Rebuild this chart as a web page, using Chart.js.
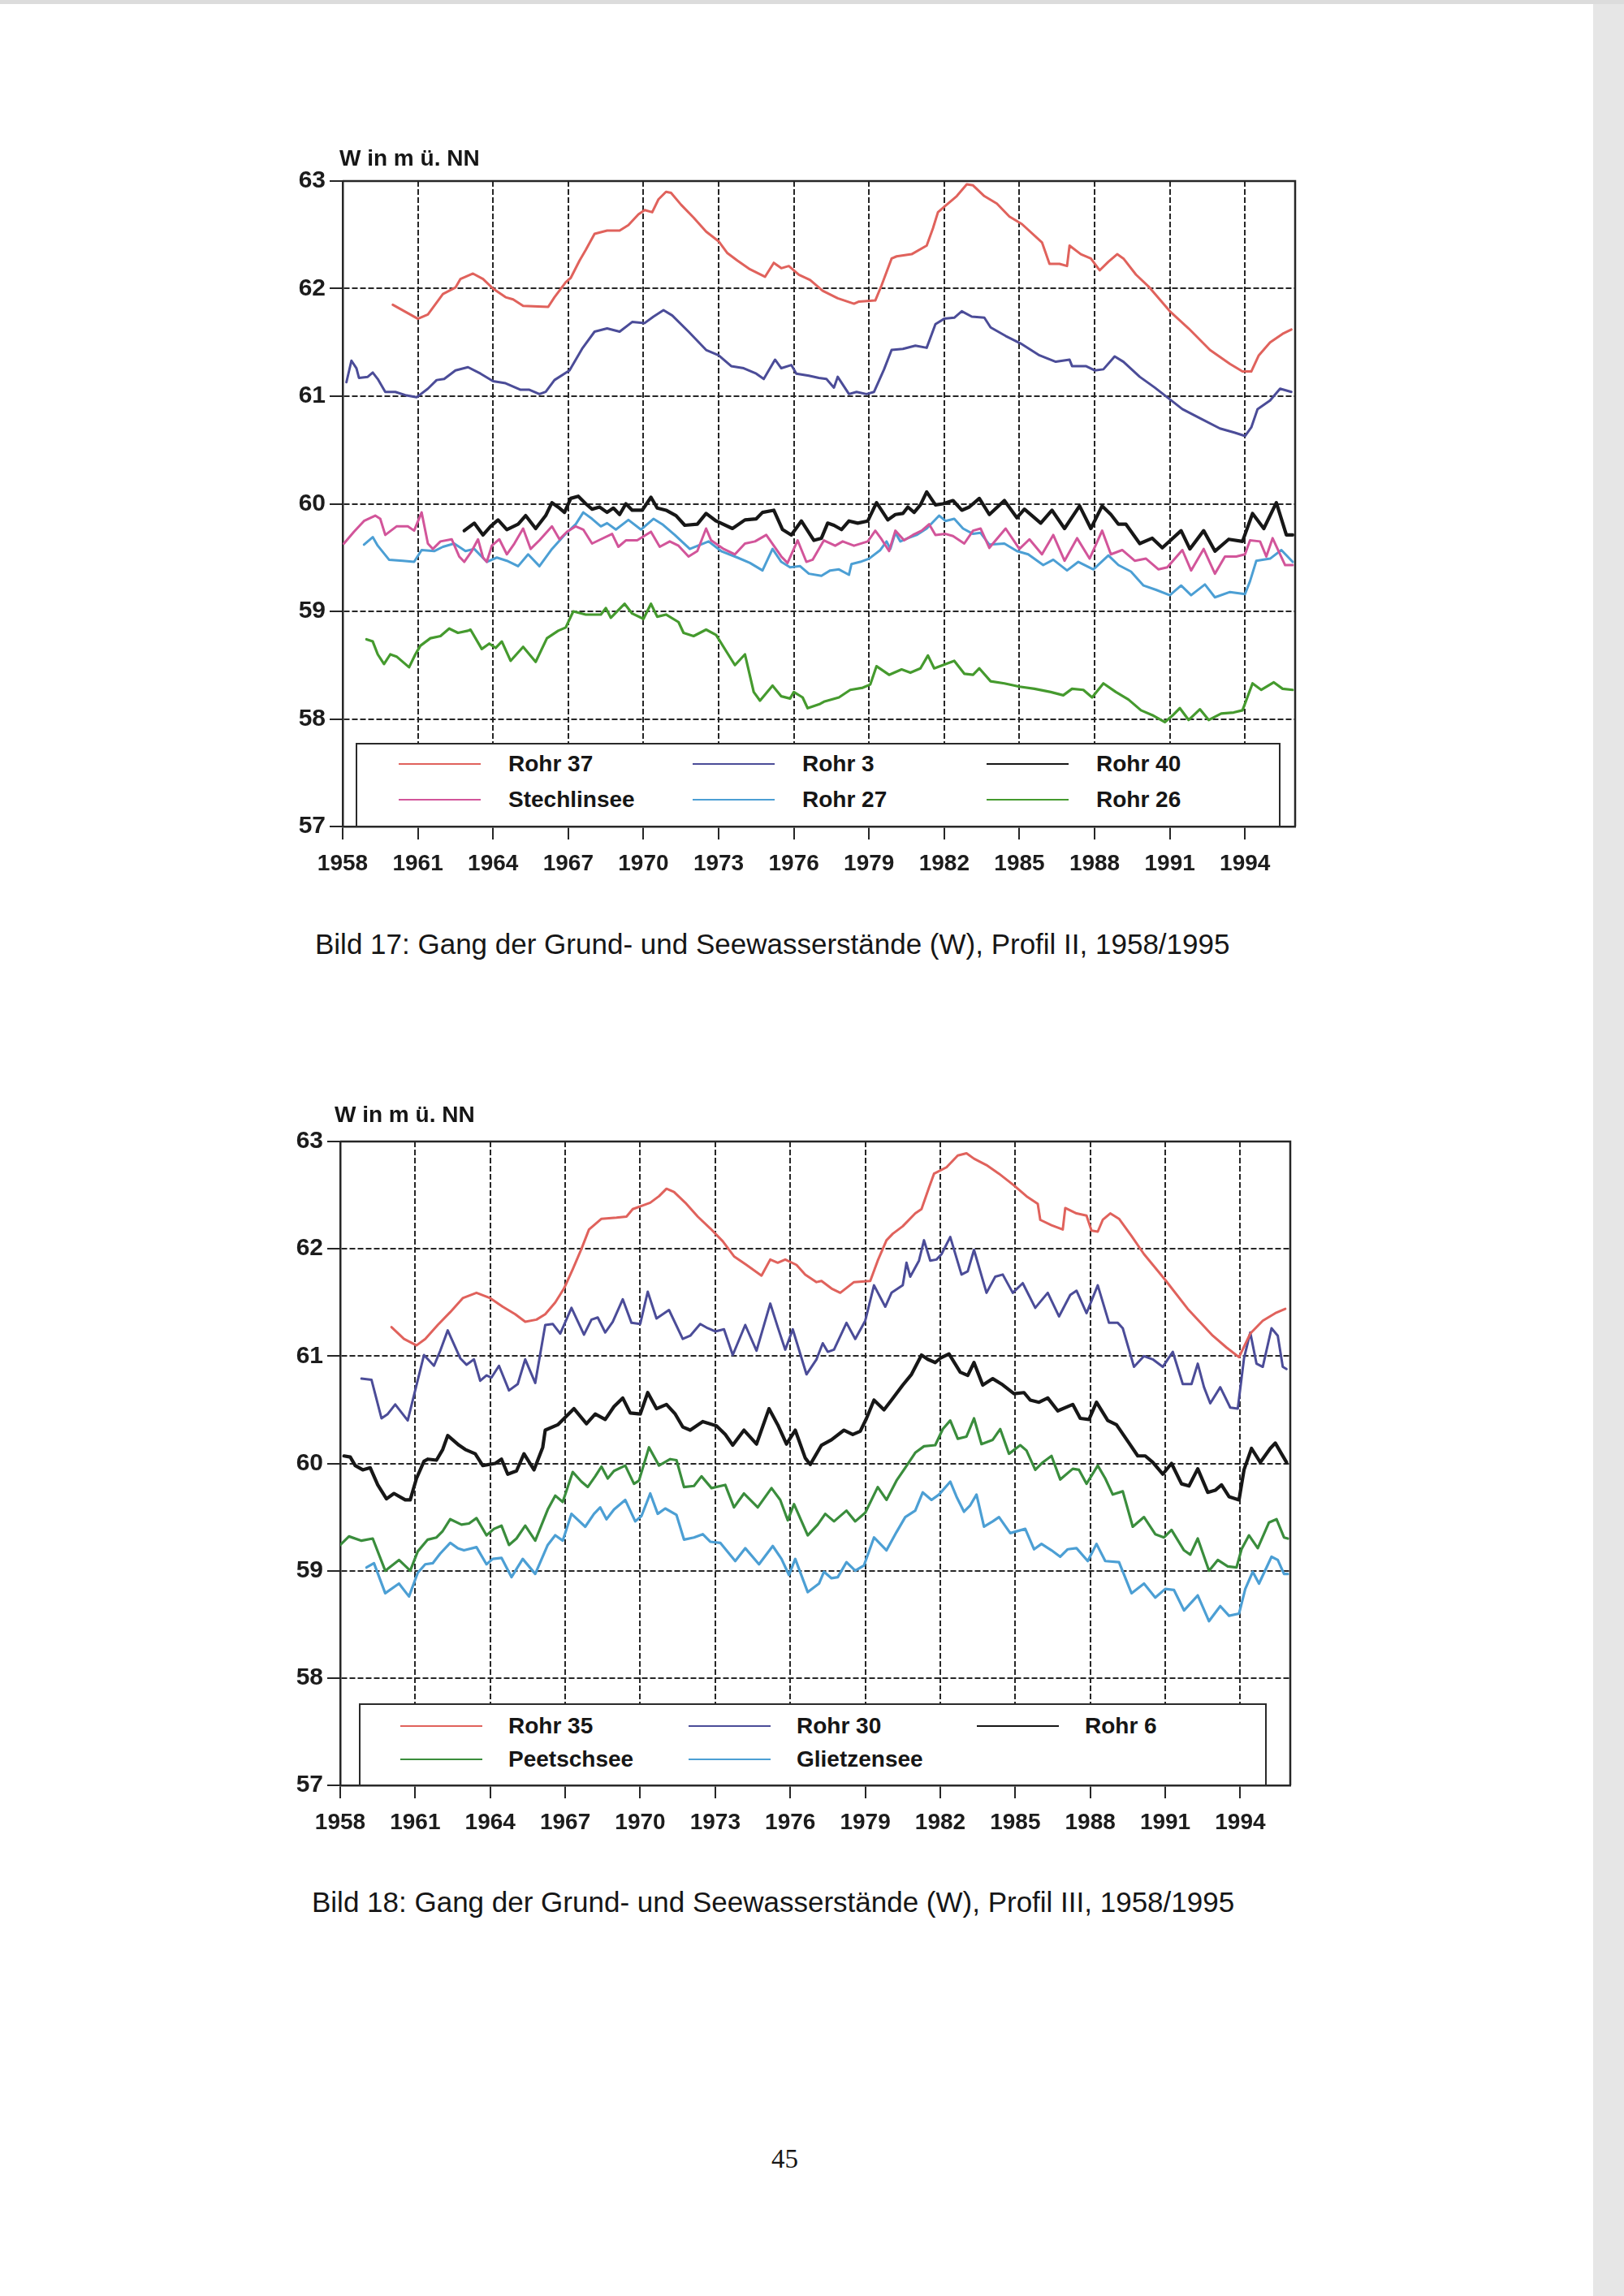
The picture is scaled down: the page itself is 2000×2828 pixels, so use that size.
<!DOCTYPE html>
<html><head><meta charset="utf-8">
<script src="https://cdn.jsdelivr.net/npm/chart.js@4.4.1/dist/chart.umd.min.js"></script>
<style>
html,body{margin:0;padding:0;background:#fff;}
#page{position:relative;width:2000px;height:2828px;overflow:hidden;background:#fff;font-family:'Liberation Sans',Arial,sans-serif;color:#161616;}
canvas{position:absolute;}
.t{position:absolute;white-space:nowrap;line-height:1;}
.lg{position:absolute;background:#fff;border:2px solid #2a2a2a;box-sizing:border-box;z-index:5;}
.ll{position:absolute;height:2px;}
.lt{position:absolute;white-space:nowrap;line-height:1;font-weight:bold;font-size:28px;}
</style></head>
<body><div id="page">
<div style="position:absolute;left:1962px;top:0;width:38px;height:2828px;background:#e6e6e6"></div>
<div style="position:absolute;left:0;top:0;width:2000px;height:5px;background:#dcdcdc"></div>
<canvas id="c1" width="1340" height="900" style="left:300px;top:200px"></canvas>
<canvas id="c2" width="1340" height="900" style="left:300px;top:1380px"></canvas>
<div class="t" style="left:418px;top:181px;font-size:28px;font-weight:bold">W in m ü. NN</div>
<div class="t" style="left:412px;top:1359px;font-size:28px;font-weight:bold">W in m ü. NN</div>
<div class="t" style="left:388px;top:1145px;font-size:35px">Bild 17: Gang der Grund- und Seewasserstände (W), Profil II, 1958/1995</div>
<div class="t" style="left:384px;top:2325px;font-size:35px">Bild 18: Gang der Grund- und Seewasserstände (W), Profil III, 1958/1995</div>
<div class="t" style="left:950px;top:2643px;font-size:33px;font-family:'Liberation Serif','Times New Roman',serif">45</div>
</div>
<script>
// ---------- tick labels ----------
const xTickYears = [1958,1961,1964,1967,1970,1973,1976,1979,1982,1985,1988,1991,1994];
const yMin = 57, yMax = 63, xMin = 1958, xMax = 1996;

// ---------- Bild 17 series ([year, W in m ü. NN]) ----------
const names1 = ['Rohr 37','Rohr 3','Rohr 40','Stechlinsee','Rohr 27','Rohr 26'];
const rohr37 = [[1960.0,61.85],[1961.0,61.72],[1961.4,61.76],[1962.0,61.95],[1962.5,62.01],[1962.7,62.09],[1963.2,62.14],[1963.6,62.09],[1964.0,62.0],[1964.5,61.92],[1964.8,61.9],[1965.2,61.84],[1966.2,61.83],[1966.45,61.92],[1966.9,62.06],[1967.1,62.1],[1967.45,62.26],[1967.7,62.36],[1968.05,62.51],[1968.55,62.54],[1969.05,62.54],[1969.4,62.59],[1969.8,62.69],[1970.05,62.73],[1970.35,62.71],[1970.6,62.83],[1970.9,62.9],[1971.1,62.89],[1971.5,62.78],[1972.0,62.66],[1972.5,62.53],[1973.0,62.44],[1973.35,62.33],[1973.75,62.26],[1974.25,62.18],[1974.85,62.11],[1975.2,62.24],[1975.5,62.19],[1975.8,62.21],[1976.2,62.13],[1976.65,62.08],[1977.15,61.98],[1977.75,61.91],[1978.4,61.86],[1978.6,61.88],[1979.25,61.89],[1979.5,62.03],[1979.9,62.28],[1980.1,62.3],[1980.7,62.32],[1981.3,62.4],[1981.55,62.56],[1981.75,62.71],[1982.05,62.77],[1982.5,62.86],[1982.9,62.97],[1983.15,62.96],[1983.6,62.86],[1984.1,62.79],[1984.6,62.67],[1985.1,62.6],[1985.9,62.43],[1986.2,62.23],[1986.6,62.23],[1986.9,62.21],[1987.0,62.4],[1987.45,62.32],[1987.85,62.28],[1988.2,62.17],[1988.55,62.25],[1988.9,62.32],[1989.15,62.28],[1989.65,62.13],[1990.15,62.02],[1991.0,61.79],[1991.75,61.63],[1992.6,61.43],[1993.4,61.3],[1993.9,61.23],[1994.25,61.23],[1994.55,61.38],[1995.0,61.5],[1995.5,61.58],[1995.85,61.62]];
const rohr3 = [[1958.15,61.13],[1958.35,61.33],[1958.55,61.26],[1958.65,61.17],[1959.0,61.18],[1959.2,61.22],[1959.4,61.16],[1959.7,61.04],[1960.1,61.04],[1960.5,61.01],[1960.95,60.99],[1961.4,61.07],[1961.75,61.15],[1962.05,61.16],[1962.5,61.24],[1963.0,61.27],[1963.5,61.21],[1964.0,61.14],[1964.5,61.12],[1965.1,61.06],[1965.45,61.06],[1965.85,61.02],[1966.1,61.04],[1966.45,61.15],[1967.05,61.24],[1967.55,61.44],[1968.05,61.6],[1968.55,61.63],[1969.05,61.6],[1969.55,61.69],[1970.05,61.68],[1970.4,61.74],[1970.8,61.8],[1971.15,61.75],[1971.8,61.6],[1972.5,61.43],[1973.0,61.38],[1973.5,61.28],[1974.0,61.26],[1974.5,61.21],[1974.8,61.16],[1975.25,61.34],[1975.5,61.26],[1975.9,61.29],[1976.1,61.21],[1976.6,61.19],[1977.0,61.17],[1977.3,61.16],[1977.6,61.08],[1977.75,61.18],[1978.2,61.02],[1978.5,61.04],[1978.9,61.02],[1979.2,61.04],[1979.6,61.25],[1979.9,61.43],[1980.35,61.44],[1980.85,61.47],[1981.3,61.45],[1981.65,61.67],[1982.0,61.72],[1982.4,61.73],[1982.7,61.79],[1983.1,61.74],[1983.6,61.73],[1983.85,61.64],[1984.45,61.56],[1985.05,61.49],[1985.8,61.38],[1986.45,61.32],[1987.0,61.34],[1987.1,61.28],[1987.65,61.28],[1988.0,61.24],[1988.35,61.25],[1988.8,61.37],[1989.15,61.32],[1989.8,61.18],[1990.4,61.08],[1990.9,60.99],[1991.5,60.88],[1992.25,60.79],[1993.0,60.7],[1993.6,60.66],[1994.0,60.63],[1994.25,60.71],[1994.5,60.88],[1995.0,60.96],[1995.4,61.07],[1995.85,61.04]];
const rohr40 = [[1962.85,59.75],[1963.25,59.82],[1963.6,59.71],[1963.9,59.79],[1964.2,59.85],[1964.55,59.76],[1965.0,59.81],[1965.3,59.89],[1965.7,59.77],[1966.1,59.89],[1966.35,60.01],[1966.65,59.96],[1966.85,59.92],[1967.1,60.05],[1967.4,60.07],[1967.7,60.0],[1967.95,59.95],[1968.25,59.97],[1968.55,59.92],[1968.8,59.96],[1969.05,59.9],[1969.3,60.0],[1969.55,59.94],[1969.95,59.94],[1970.3,60.06],[1970.55,59.96],[1970.9,59.94],[1971.3,59.89],[1971.65,59.8],[1972.15,59.81],[1972.5,59.91],[1972.9,59.84],[1973.55,59.77],[1974.05,59.85],[1974.5,59.86],[1974.75,59.92],[1975.2,59.94],[1975.55,59.76],[1975.9,59.71],[1976.3,59.84],[1976.8,59.66],[1977.1,59.68],[1977.35,59.82],[1977.6,59.8],[1977.9,59.76],[1978.2,59.84],[1978.55,59.82],[1978.95,59.84],[1979.3,60.01],[1979.75,59.85],[1980.05,59.9],[1980.35,59.91],[1980.55,59.97],[1980.8,59.92],[1981.05,59.99],[1981.3,60.11],[1981.65,59.99],[1981.95,60.0],[1982.35,60.03],[1982.7,59.94],[1983.0,59.97],[1983.4,60.05],[1983.8,59.9],[1984.4,60.03],[1984.9,59.87],[1985.2,59.95],[1985.85,59.82],[1986.3,59.94],[1986.8,59.77],[1987.4,59.98],[1987.85,59.77],[1988.3,59.98],[1988.65,59.9],[1988.95,59.81],[1989.25,59.81],[1989.8,59.63],[1990.3,59.68],[1990.7,59.59],[1991.45,59.75],[1991.8,59.58],[1992.35,59.75],[1992.8,59.56],[1993.35,59.67],[1993.9,59.65],[1994.3,59.91],[1994.75,59.77],[1995.25,60.01],[1995.65,59.71],[1995.9,59.71]];
const stechlinsee = [[1958.05,59.63],[1958.45,59.74],[1958.85,59.84],[1959.3,59.89],[1959.5,59.86],[1959.7,59.71],[1960.15,59.79],[1960.6,59.79],[1960.85,59.75],[1961.15,59.92],[1961.4,59.63],[1961.6,59.58],[1961.9,59.65],[1962.35,59.67],[1962.65,59.51],[1962.85,59.46],[1963.15,59.56],[1963.4,59.67],[1963.6,59.5],[1963.75,59.46],[1963.95,59.61],[1964.25,59.67],[1964.55,59.53],[1964.85,59.63],[1965.2,59.77],[1965.5,59.58],[1965.85,59.66],[1966.35,59.79],[1966.65,59.67],[1966.95,59.74],[1967.3,59.79],[1967.6,59.76],[1967.95,59.63],[1968.3,59.67],[1968.75,59.72],[1969.0,59.6],[1969.3,59.66],[1969.75,59.66],[1970.3,59.74],[1970.65,59.6],[1971.05,59.65],[1971.4,59.61],[1971.8,59.51],[1972.15,59.56],[1972.5,59.77],[1972.7,59.66],[1973.2,59.58],[1973.65,59.53],[1974.05,59.63],[1974.45,59.65],[1974.9,59.71],[1975.2,59.61],[1975.5,59.51],[1975.75,59.45],[1976.15,59.66],[1976.5,59.46],[1976.75,59.48],[1977.2,59.66],[1977.65,59.61],[1977.95,59.65],[1978.4,59.61],[1978.95,59.65],[1979.25,59.75],[1979.5,59.67],[1979.8,59.56],[1980.05,59.75],[1980.4,59.66],[1980.75,59.71],[1981.1,59.75],[1981.4,59.81],[1981.65,59.71],[1982.05,59.72],[1982.35,59.7],[1982.8,59.63],[1983.15,59.75],[1983.45,59.77],[1983.8,59.59],[1984.45,59.77],[1985.0,59.58],[1985.4,59.67],[1985.9,59.53],[1986.35,59.71],[1986.8,59.47],[1987.3,59.68],[1987.8,59.49],[1988.3,59.75],[1988.65,59.53],[1989.1,59.57],[1989.6,59.47],[1990.05,59.49],[1990.55,59.39],[1990.9,59.41],[1991.5,59.57],[1991.85,59.38],[1992.35,59.58],[1992.8,59.35],[1993.2,59.51],[1993.65,59.51],[1994.0,59.53],[1994.2,59.66],[1994.6,59.65],[1994.85,59.51],[1995.1,59.68],[1995.6,59.43],[1995.9,59.43]];
const rohr27 = [[1958.85,59.62],[1959.2,59.69],[1959.4,59.61],[1959.85,59.48],[1960.4,59.47],[1960.85,59.46],[1961.15,59.57],[1961.65,59.56],[1962.0,59.6],[1962.45,59.63],[1962.9,59.56],[1963.25,59.58],[1963.75,59.46],[1964.15,59.5],[1964.55,59.47],[1965.0,59.42],[1965.4,59.53],[1965.85,59.42],[1966.35,59.58],[1966.85,59.71],[1967.3,59.81],[1967.6,59.92],[1967.95,59.86],[1968.3,59.79],[1968.55,59.82],[1968.9,59.76],[1969.4,59.85],[1969.9,59.76],[1970.4,59.86],[1970.75,59.81],[1971.25,59.71],[1971.85,59.58],[1972.6,59.65],[1973.1,59.56],[1973.75,59.5],[1974.25,59.45],[1974.75,59.38],[1975.15,59.58],[1975.5,59.46],[1975.85,59.41],[1976.25,59.42],[1976.6,59.35],[1977.1,59.33],[1977.45,59.38],[1977.8,59.39],[1978.2,59.34],[1978.3,59.44],[1978.65,59.46],[1979.0,59.49],[1979.45,59.57],[1979.7,59.65],[1979.85,59.58],[1980.05,59.73],[1980.25,59.65],[1980.55,59.68],[1980.9,59.71],[1981.3,59.77],[1981.8,59.89],[1982.05,59.84],[1982.4,59.86],[1982.75,59.77],[1983.15,59.72],[1983.45,59.73],[1983.8,59.62],[1984.4,59.63],[1984.9,59.56],[1985.35,59.53],[1985.95,59.43],[1986.35,59.48],[1986.9,59.38],[1987.35,59.46],[1987.95,59.39],[1988.55,59.52],[1988.95,59.43],[1989.45,59.37],[1989.95,59.24],[1990.45,59.2],[1991.0,59.15],[1991.45,59.24],[1991.85,59.15],[1992.4,59.25],[1992.8,59.13],[1993.4,59.18],[1994.0,59.16],[1994.2,59.28],[1994.45,59.47],[1995.0,59.49],[1995.45,59.57],[1995.9,59.46]];
const rohr26 = [[1958.95,58.74],[1959.2,58.72],[1959.4,58.6],[1959.65,58.51],[1959.9,58.6],[1960.15,58.58],[1960.65,58.48],[1960.9,58.6],[1961.1,58.68],[1961.5,58.75],[1961.9,58.77],[1962.25,58.84],[1962.6,58.8],[1963.0,58.82],[1963.1,58.83],[1963.55,58.65],[1963.85,58.7],[1964.1,58.66],[1964.35,58.72],[1964.7,58.54],[1965.2,58.67],[1965.7,58.53],[1966.15,58.75],[1966.6,58.82],[1966.9,58.85],[1967.2,59.0],[1967.7,58.97],[1968.3,58.97],[1968.5,59.03],[1968.7,58.94],[1969.25,59.07],[1969.55,58.98],[1970.0,58.93],[1970.3,59.07],[1970.55,58.95],[1970.9,58.97],[1971.4,58.9],[1971.6,58.8],[1972.0,58.77],[1972.5,58.83],[1972.9,58.78],[1973.3,58.63],[1973.65,58.5],[1974.05,58.6],[1974.4,58.25],[1974.65,58.17],[1975.15,58.31],[1975.5,58.21],[1975.85,58.19],[1976.0,58.25],[1976.35,58.2],[1976.55,58.1],[1977.05,58.14],[1977.2,58.16],[1977.8,58.2],[1978.25,58.27],[1978.75,58.29],[1979.05,58.32],[1979.3,58.49],[1979.8,58.41],[1980.3,58.46],[1980.65,58.43],[1981.05,58.47],[1981.35,58.59],[1981.6,58.47],[1982.05,58.51],[1982.4,58.54],[1982.8,58.42],[1983.15,58.41],[1983.4,58.47],[1983.85,58.35],[1984.4,58.33],[1985.0,58.3],[1985.6,58.28],[1986.25,58.25],[1986.75,58.22],[1987.1,58.28],[1987.55,58.27],[1987.9,58.2],[1988.35,58.33],[1988.85,58.25],[1989.35,58.18],[1989.85,58.08],[1990.35,58.03],[1990.8,57.97],[1991.1,58.03],[1991.4,58.1],[1991.75,57.99],[1992.2,58.09],[1992.55,57.99],[1993.05,58.05],[1993.55,58.06],[1993.9,58.08],[1994.3,58.33],[1994.65,58.27],[1995.15,58.34],[1995.5,58.28],[1995.9,58.27]];

// ---------- Bild 18 series ----------
const names2 = ['Rohr 35','Rohr 30','Rohr 6','Peetschsee','Glietzensee'];
const rohr35 = [[1960.05,61.27],[1960.55,61.16],[1961.05,61.1],[1961.4,61.16],[1961.9,61.29],[1962.4,61.41],[1962.9,61.54],[1963.45,61.59],[1964.0,61.54],[1964.5,61.46],[1965.0,61.39],[1965.4,61.32],[1965.85,61.34],[1966.2,61.39],[1966.6,61.5],[1966.95,61.63],[1967.3,61.81],[1967.65,62.0],[1967.95,62.18],[1968.45,62.28],[1969.05,62.29],[1969.45,62.3],[1969.7,62.37],[1970.05,62.4],[1970.4,62.43],[1970.75,62.49],[1971.05,62.56],[1971.35,62.53],[1971.8,62.43],[1972.3,62.3],[1972.8,62.19],[1973.3,62.07],[1973.75,61.93],[1974.25,61.85],[1974.85,61.75],[1975.2,61.9],[1975.5,61.87],[1975.8,61.9],[1976.25,61.85],[1976.6,61.76],[1977.05,61.69],[1977.25,61.7],[1977.65,61.63],[1978.0,61.59],[1978.55,61.69],[1979.2,61.7],[1979.5,61.89],[1979.85,62.08],[1980.1,62.14],[1980.5,62.21],[1981.0,62.33],[1981.25,62.37],[1981.55,62.57],[1981.75,62.7],[1982.25,62.76],[1982.7,62.87],[1983.05,62.89],[1983.35,62.84],[1983.85,62.78],[1984.35,62.7],[1984.95,62.59],[1985.45,62.49],[1985.9,62.42],[1986.0,62.27],[1986.45,62.22],[1986.9,62.18],[1987.0,62.38],[1987.45,62.33],[1987.85,62.31],[1988.05,62.17],[1988.3,62.16],[1988.5,62.27],[1988.8,62.33],[1989.15,62.28],[1989.65,62.12],[1990.15,61.95],[1991.0,61.71],[1991.9,61.44],[1992.9,61.19],[1993.45,61.08],[1993.95,60.99],[1994.4,61.21],[1994.9,61.33],[1995.4,61.4],[1995.8,61.44]];
const rohr30 = [[1958.85,60.79],[1959.25,60.78],[1959.65,60.42],[1959.9,60.46],[1960.2,60.55],[1960.7,60.4],[1961.05,60.73],[1961.35,61.01],[1961.75,60.91],[1962.0,61.05],[1962.3,61.24],[1962.8,60.98],[1963.05,60.92],[1963.35,60.97],[1963.6,60.77],[1963.85,60.82],[1964.05,60.8],[1964.35,60.91],[1964.75,60.68],[1965.1,60.74],[1965.4,60.97],[1965.8,60.75],[1966.2,61.29],[1966.5,61.3],[1966.8,61.21],[1967.25,61.45],[1967.75,61.2],[1968.05,61.34],[1968.3,61.36],[1968.6,61.22],[1968.9,61.32],[1969.3,61.53],[1969.65,61.31],[1970.0,61.3],[1970.3,61.6],[1970.65,61.35],[1971.15,61.43],[1971.7,61.16],[1972.0,61.19],[1972.4,61.3],[1972.7,61.26],[1973.0,61.23],[1973.35,61.25],[1973.7,61.01],[1974.2,61.29],[1974.65,61.05],[1975.2,61.49],[1975.5,61.27],[1975.8,61.06],[1976.1,61.25],[1976.65,60.83],[1977.05,60.97],[1977.3,61.12],[1977.5,61.04],[1977.75,61.06],[1978.25,61.31],[1978.6,61.16],[1979.0,61.33],[1979.35,61.66],[1979.8,61.46],[1980.05,61.59],[1980.5,61.66],[1980.65,61.87],[1980.8,61.74],[1981.15,61.89],[1981.35,62.08],[1981.6,61.89],[1981.85,61.9],[1982.05,61.95],[1982.4,62.11],[1982.85,61.76],[1983.1,61.79],[1983.35,61.99],[1983.85,61.59],[1984.2,61.74],[1984.5,61.76],[1984.9,61.59],[1985.3,61.68],[1985.8,61.45],[1986.3,61.59],[1986.75,61.37],[1987.2,61.57],[1987.45,61.61],[1987.85,61.4],[1988.3,61.66],[1988.75,61.31],[1989.1,61.31],[1989.3,61.26],[1989.75,60.9],[1990.15,61.0],[1990.5,60.97],[1990.9,60.9],[1991.3,61.04],[1991.7,60.74],[1992.05,60.74],[1992.3,60.93],[1992.55,60.71],[1992.8,60.56],[1993.2,60.71],[1993.6,60.52],[1993.9,60.51],[1994.15,60.98],[1994.4,61.22],[1994.65,60.93],[1994.9,60.9],[1995.25,61.26],[1995.5,61.19],[1995.7,60.9],[1995.85,60.88]];
const rohr6 = [[1958.15,60.07],[1958.4,60.06],[1958.6,59.98],[1958.9,59.94],[1959.2,59.96],[1959.5,59.8],[1959.85,59.67],[1960.15,59.72],[1960.6,59.66],[1960.8,59.66],[1961.05,59.86],[1961.35,60.02],[1961.5,60.04],[1961.85,60.03],[1962.1,60.13],[1962.3,60.26],[1962.75,60.17],[1963.0,60.13],[1963.4,60.09],[1963.7,59.98],[1964.2,60.0],[1964.45,60.04],[1964.7,59.9],[1965.05,59.93],[1965.35,60.09],[1965.75,59.94],[1966.1,60.15],[1966.2,60.31],[1966.7,60.36],[1967.35,60.51],[1967.85,60.37],[1968.2,60.46],[1968.6,60.41],[1968.95,60.53],[1969.3,60.61],[1969.6,60.47],[1970.0,60.46],[1970.3,60.66],[1970.65,60.51],[1971.05,60.55],[1971.4,60.46],[1971.7,60.34],[1972.0,60.31],[1972.5,60.39],[1973.05,60.35],[1973.4,60.27],[1973.7,60.17],[1974.15,60.31],[1974.65,60.18],[1975.15,60.51],[1975.5,60.36],[1975.85,60.18],[1976.2,60.31],[1976.6,60.05],[1976.8,59.99],[1977.25,60.17],[1977.65,60.22],[1978.15,60.31],[1978.5,60.27],[1978.8,60.3],[1979.05,60.42],[1979.35,60.59],[1979.75,60.5],[1980.05,60.59],[1980.5,60.73],[1980.85,60.83],[1981.25,61.01],[1981.5,60.97],[1981.8,60.94],[1982.0,60.98],[1982.35,61.02],[1982.8,60.85],[1983.1,60.82],[1983.35,60.94],[1983.7,60.73],[1984.1,60.79],[1984.45,60.74],[1984.95,60.65],[1985.35,60.66],[1985.6,60.59],[1985.95,60.57],[1986.3,60.61],[1986.7,60.49],[1987.3,60.55],[1987.6,60.42],[1987.95,60.41],[1988.25,60.57],[1988.7,60.4],[1989.05,60.36],[1989.55,60.19],[1989.9,60.07],[1990.2,60.07],[1990.5,60.01],[1990.9,59.9],[1991.25,60.0],[1991.65,59.81],[1991.95,59.79],[1992.3,59.95],[1992.7,59.73],[1993.0,59.75],[1993.25,59.8],[1993.55,59.69],[1993.95,59.66],[1994.15,59.94],[1994.45,60.14],[1994.8,60.01],[1995.2,60.14],[1995.4,60.19],[1995.65,60.09],[1995.85,60.01]];
const peetschsee = [[1958.0,59.24],[1958.35,59.32],[1958.85,59.28],[1959.3,59.3],[1959.8,59.0],[1960.35,59.1],[1960.8,59.0],[1961.1,59.18],[1961.5,59.29],[1961.85,59.31],[1962.1,59.37],[1962.4,59.48],[1962.85,59.43],[1963.15,59.44],[1963.45,59.49],[1963.85,59.33],[1964.15,59.39],[1964.45,59.42],[1964.75,59.24],[1965.05,59.3],[1965.4,59.42],[1965.8,59.28],[1966.3,59.57],[1966.6,59.7],[1966.9,59.64],[1967.3,59.92],[1967.65,59.83],[1967.9,59.78],[1968.2,59.88],[1968.45,59.97],[1968.7,59.86],[1968.95,59.93],[1969.4,59.98],[1969.75,59.81],[1969.95,59.84],[1970.35,60.15],[1970.75,59.98],[1971.2,60.04],[1971.45,60.03],[1971.75,59.78],[1972.15,59.79],[1972.45,59.88],[1972.85,59.77],[1973.4,59.8],[1973.75,59.59],[1974.15,59.72],[1974.7,59.59],[1975.25,59.77],[1975.6,59.66],[1975.9,59.47],[1976.15,59.62],[1976.7,59.33],[1977.1,59.43],[1977.4,59.53],[1977.75,59.46],[1978.25,59.56],[1978.6,59.46],[1979.0,59.54],[1979.5,59.78],[1979.85,59.66],[1980.25,59.84],[1980.6,59.96],[1981.0,60.1],[1981.35,60.16],[1981.8,60.17],[1982.1,60.32],[1982.4,60.4],[1982.7,60.23],[1983.05,60.25],[1983.35,60.42],[1983.65,60.18],[1984.1,60.22],[1984.4,60.32],[1984.75,60.09],[1985.2,60.17],[1985.45,60.12],[1985.8,59.94],[1986.1,60.01],[1986.45,60.07],[1986.8,59.85],[1987.3,59.95],[1987.55,59.94],[1987.85,59.81],[1988.3,59.98],[1988.6,59.86],[1988.9,59.71],[1989.3,59.74],[1989.7,59.41],[1990.15,59.5],[1990.6,59.34],[1990.95,59.31],[1991.25,59.38],[1991.75,59.19],[1992.0,59.15],[1992.3,59.3],[1992.75,59.0],[1993.1,59.1],[1993.5,59.04],[1993.85,59.03],[1994.05,59.2],[1994.35,59.33],[1994.7,59.21],[1995.15,59.45],[1995.45,59.48],[1995.75,59.31],[1995.9,59.3]];
const glietzensee = [[1959.05,59.03],[1959.35,59.07],[1959.8,58.79],[1960.35,58.88],[1960.75,58.76],[1961.1,58.98],[1961.4,59.06],[1961.7,59.07],[1962.0,59.16],[1962.4,59.26],[1962.7,59.21],[1962.95,59.19],[1963.45,59.22],[1963.85,59.06],[1964.1,59.11],[1964.45,59.12],[1964.85,58.94],[1965.3,59.11],[1965.8,58.97],[1966.3,59.24],[1966.6,59.33],[1966.9,59.28],[1967.25,59.53],[1967.8,59.41],[1968.15,59.53],[1968.4,59.59],[1968.65,59.48],[1968.95,59.57],[1969.4,59.66],[1969.8,59.46],[1970.05,59.51],[1970.4,59.72],[1970.7,59.53],[1971.0,59.58],[1971.45,59.52],[1971.75,59.29],[1972.15,59.31],[1972.5,59.34],[1972.8,59.27],[1973.2,59.26],[1973.8,59.09],[1974.2,59.21],[1974.75,59.06],[1975.3,59.23],[1975.65,59.11],[1975.95,58.96],[1976.2,59.11],[1976.7,58.8],[1977.15,58.88],[1977.35,58.99],[1977.65,58.93],[1977.9,58.94],[1978.25,59.08],[1978.6,59.0],[1978.95,59.05],[1979.35,59.31],[1979.85,59.19],[1980.25,59.36],[1980.6,59.5],[1981.0,59.56],[1981.3,59.73],[1981.65,59.66],[1981.95,59.71],[1982.4,59.83],[1982.65,59.69],[1982.95,59.55],[1983.2,59.61],[1983.45,59.71],[1983.75,59.41],[1984.1,59.46],[1984.35,59.5],[1984.8,59.35],[1985.4,59.39],[1985.75,59.2],[1986.05,59.25],[1986.45,59.19],[1986.8,59.13],[1987.1,59.2],[1987.45,59.21],[1987.9,59.09],[1988.25,59.25],[1988.6,59.09],[1989.15,59.08],[1989.65,58.79],[1990.15,58.88],[1990.6,58.75],[1991.0,58.83],[1991.35,58.82],[1991.75,58.63],[1992.3,58.77],[1992.75,58.53],[1993.2,58.67],[1993.55,58.58],[1993.95,58.6],[1994.2,58.83],[1994.5,58.99],[1994.75,58.88],[1995.25,59.13],[1995.5,59.1],[1995.75,58.97],[1995.9,58.97]];

// ---------- styling ----------
const RED='#e0625c', BLUE='#4b4c98', BLACK='#171717', MAG='#d2559a', LBLUE='#4c9fd4', GREEN1='#459a2e', GREEN2='#3a8d3c';
const INK='#1c1c1c', GRID='#262626';

const framePlugin = {
  id:'frame',
  afterDraw(chart){
    const {ctx, chartArea:a} = chart;
    ctx.save(); ctx.strokeStyle=GRID; ctx.lineWidth=2.5;
    ctx.beginPath(); ctx.moveTo(a.left,a.top); ctx.lineTo(a.right,a.top); ctx.lineTo(a.right,a.bottom); ctx.stroke();
    ctx.restore();
  }
};

function ds(label, pts, color, width){
  return {label, data: pts.map(p=>({x:p[0], y:p[1]})), borderColor: color, backgroundColor: color,
    borderWidth: width, pointRadius: 0, tension: 0, fill: false, borderJoinStyle:'round', borderCapStyle:'round'};
}

function makeChart(id, datasets, yW, xH, padTop, padRight){
  new Chart(document.getElementById(id), {
    type:'line',
    data:{datasets},
    plugins:[framePlugin],
    options:{
      responsive:false, animation:false, devicePixelRatio:1,
      layout:{padding:{top:padTop, right:padRight, left:0, bottom:0}},
      plugins:{legend:{display:false}, tooltip:{enabled:false}},
      scales:{
        x:{type:'linear', min:xMin, max:xMax,
          afterBuildTicks:s=>{ s.ticks = xTickYears.map(v=>({value:v})); },
          afterFit:s=>{ s.height = xH; },
          ticks:{color:INK, padding:13, maxRotation:0, autoSkip:false, font:{family:'Liberation Sans', weight:'bold', size:28}, callback:v=>String(v)},
          grid:{color:GRID, lineWidth:2, tickLength:16, tickColor:GRID, tickWidth:2},
          border:{display:true, color:GRID, width:2.5, dash:[7,3]}},
        y:{min:yMin, max:yMax,
          afterFit:s=>{ s.width = yW; },
          ticks:{stepSize:1, color:INK, padding:5, font:{family:'Liberation Sans', weight:'bold', size:30}, callback:v=>String(v)},
          grid:{color:GRID, lineWidth:2, tickLength:16, tickColor:GRID, tickWidth:2},
          border:{display:true, color:GRID, width:2.5, dash:[7,3]}}
      }
    }
  });
}

const ds1 = [ds(names1[0],rohr37,RED,3), ds(names1[1],rohr3,BLUE,3), ds(names1[2],rohr40,BLACK,4.2),
             ds(names1[3],stechlinsee,MAG,3), ds(names1[4],rohr27,LBLUE,3), ds(names1[5],rohr26,GREEN1,3.2)];
const ds2 = [ds(names2[0],rohr35,RED,3), ds(names2[1],rohr30,BLUE,3), ds(names2[2],rohr6,BLACK,4.2),
             ds(names2[3],peetschsee,GREEN2,3.2), ds(names2[4],glietzensee,LBLUE,3.2)];

makeChart('c1', ds1, 122, 82, 23, 45);
makeChart('c2', ds2, 119, 81, 26, 51);

// ---------- legends (HTML overlay boxes) ----------
function legend(box, cols, rows, lineW, textOff, dsets){
  const page = document.getElementById('page');
  const b = document.createElement('div'); b.className='lg';
  b.style.left=box[0]+'px'; b.style.top=box[1]+'px'; b.style.width=(box[2]-box[0])+'px'; b.style.height=(box[3]-box[1])+'px';
  page.appendChild(b);
  dsets.forEach((d,i)=>{
    const cx = cols[i%3], cy = rows[Math.floor(i/3)];
    const l = document.createElement('div'); l.className='ll';
    l.style.left=cx+'px'; l.style.top=(cy-1)+'px'; l.style.width=lineW+'px'; l.style.background=d.borderColor;
    l.style.zIndex=6; page.appendChild(l);
    const t = document.createElement('div'); t.className='lt'; t.textContent=d.label;
    t.style.left=(cx+textOff)+'px'; t.style.top=(cy-14)+'px'; t.style.zIndex=6; page.appendChild(t);
  });
}
legend([438,915,1577,1019],[491,853,1215],[941,985],101,135,ds1);
legend([442,2098,1560,2200],[493,848,1203],[2126,2167],101,133,ds2);
</script>
</body></html>
